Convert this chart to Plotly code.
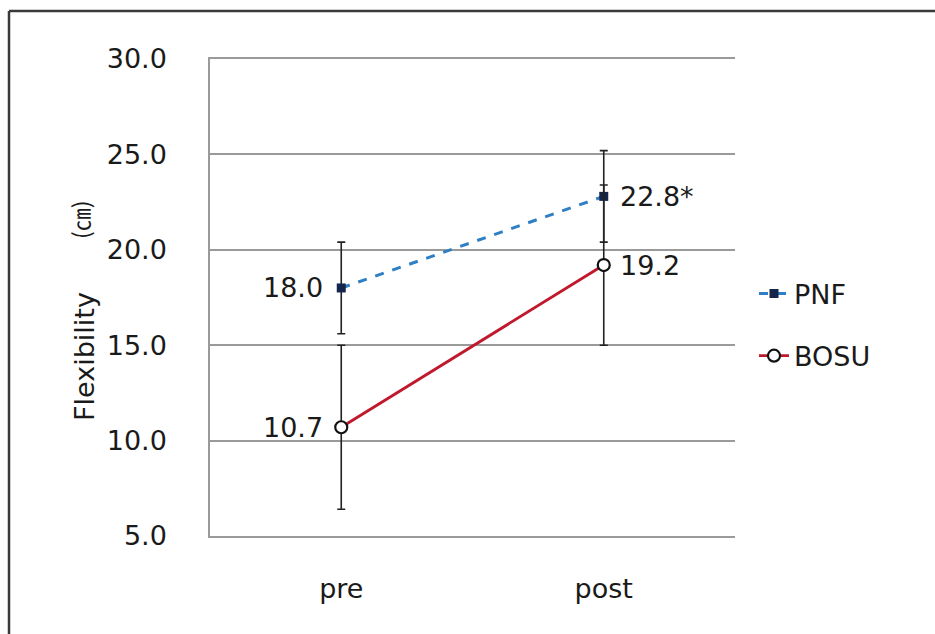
import plotly.graph_objects as go

# Flexibility (cm) before and after the training programmes
phases = ["pre", "post"]
pnf_mean = [18.0, 22.8]
pnf_sd = [2.4, 2.4]
bosu_mean = [10.7, 19.2]
bosu_sd = [4.3, 4.2]
pnf_labels = ["18.0", "22.8*"]
bosu_labels = ["10.7", "19.2"]
y_ticks = [5, 10, 15, 20, 25, 30]

FONT = "DejaVu Sans, Noto Sans, sans-serif"
TXT = "#1a1a1a"
GRID = "#9a9a9a"

W, H = 935, 634
L, R, T, B = 210, 200, 59, 98
pw, ph = W - L - R, H - T - B


def px(x):
    return (x - L) / pw


def py(y):
    return (H - B - y) / ph


fig = go.Figure()

fig.add_trace(go.Scatter(
    x=phases, y=pnf_mean, name="PNF", mode="lines+markers",
    line=dict(color="#2E7FC4", width=3, dash="dash"),
    marker=dict(symbol="square", size=9, color="#14264A"),
    error_y=dict(type="data", array=pnf_sd, color="#222222", thickness=1.6, width=4),
    legendgroup="a",
))
fig.add_trace(go.Scatter(
    x=phases, y=bosu_mean, name="BOSU", mode="lines+markers",
    line=dict(color="#C0182C", width=2.8),
    marker=dict(symbol="circle", size=12, color="white",
                line=dict(color="#111111", width=2.2)),
    error_y=dict(type="data", array=bosu_sd, color="#222222", thickness=1.6, width=4),
    legendgroup="b",
))

annotations = []
for series_vals, labels in ((pnf_mean, pnf_labels), (bosu_mean, bosu_labels)):
    for i, (cat, val, lab) in enumerate(zip(phases, series_vals, labels)):
        left = i == 0
        annotations.append(dict(
            x=cat, y=val, xref="x", yref="y", text=lab, showarrow=False,
            xanchor="right" if left else "left", yanchor="middle",
            xshift=-16 if left else 14,
            font=dict(family=FONT, size=27, color=TXT),
        ))

# Axis title, rotated, with the unit set apart above it
annotations.append(dict(
    x=px(84), y=py(357), xref="paper", yref="paper", text="Flexibility",
    textangle=-90, showarrow=False, xanchor="center", yanchor="middle",
    font=dict(family=FONT, size=27, color=TXT),
))
annotations.append(dict(
    x=px(80), y=py(220), xref="paper", yref="paper", text="(㎝)",
    textangle=-90, showarrow=False, xanchor="center", yanchor="middle",
    font=dict(family="Noto Sans CJK KR, " + FONT, size=23, color=TXT),
))

# Outer frame: only its top and left edges fall inside the page
frame = dict(color="#3a3a3a", width=2.5)
shapes = [
    dict(type="line", xref="paper", yref="paper",
         x0=px(9), x1=px(W + 5), y0=py(11), y1=py(11), line=frame),
    dict(type="line", xref="paper", yref="paper",
         x0=px(9), x1=px(9), y0=py(11), y1=py(H + 5), line=frame),
]

fig.update_layout(
    width=W, height=H,
    margin=dict(l=L, r=R, t=T, b=B),
    paper_bgcolor="white", plot_bgcolor="white",
    showlegend=True,
    legend=dict(
        x=px(754), y=py(325), xanchor="left", yanchor="middle",
        font=dict(family=FONT, size=27, color=TXT),
        tracegroupgap=24, itemwidth=30, bgcolor="rgba(0,0,0,0)",
    ),
    annotations=annotations,
    shapes=shapes,
)

fig.update_xaxes(
    type="category", range=[-0.5, 1.5],
    showgrid=False, zeroline=False,
    showline=True, linecolor=GRID, linewidth=1.5, mirror=True,
    ticks="", ticklabelstandoff=28,
    tickfont=dict(family=FONT, size=27, color=TXT),
)
fig.update_yaxes(
    range=[5, 30], tickvals=y_ticks, tickformat=".1f",
    showgrid=True, gridcolor=GRID, gridwidth=1.5,
    showline=True, linecolor=GRID, linewidth=1.5,
    zeroline=False, ticks="", ticklabelstandoff=36,
    tickfont=dict(family=FONT, size=27, color=TXT),
)

fig.write_html("out.html")
